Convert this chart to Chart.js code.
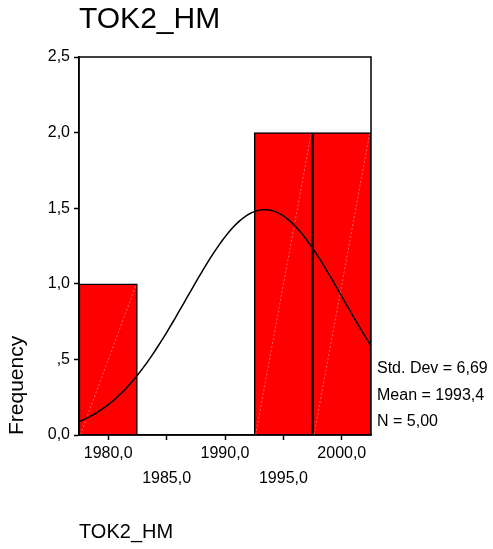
<!DOCTYPE html>
<html>
<head>
<meta charset="utf-8">
<script src="https://cdn.jsdelivr.net/npm/chart.js@4/dist/chart.umd.min.js"></script>
<style>
  html, body { margin: 0; padding: 0; background: #ffffff; }
  #wrap { width: 493px; height: 549px; }
</style>
</head>
<body>
<div id="wrap"><canvas id="chart" width="493" height="549"></canvas></div>
<script>
// Histogram of TOK2_HM with a fitted normal curve
const variableName = "TOK2_HM";
const binCenters = [1980, 1995, 2000];
const binCounts = [1, 2, 2];
const binWidth = 5;
const xMin = 1977.5;
const xMax = 2002.5;

const xTickValues = [1980, 1985, 1990, 1995, 2000];
const xTickLabels = ["1980,0", "1985,0", "1990,0", "1995,0", "2000,0"];
const yTickValues = [0, 0.5, 1, 1.5, 2, 2.5];
const yTickLabels = ["0,0", ",5", "1,0", "1,5", "2,0", "2,5"];

const statMean = 1993.4;
const statStdDev = 6.69;
const statN = 5;
const statLabels = ["Std. Dev = 6,69", "Mean = 1993,4", "N = 5,00"];

const FONT = "'Liberation Sans', Arial, Helvetica, sans-serif";

// Normal density scaled to counts per bin, from the summary statistics
const curveStep = 0.25;
const curvePoints = [];
for (let x = xMin; x <= xMax + 1e-9; x += curveStep) {
  const z = (x - statMean) / statStdDev;
  const y = statN * binWidth / (statStdDev * Math.sqrt(2 * Math.PI)) * Math.exp(-0.5 * z * z);
  curvePoints.push({ x: x, y: y });
}

const barData = binCenters.map((c, i) => ({ x: c, y: binCounts[i] }));

// Faint diagonal hatch line inside each bar
const barHatch = {
  id: 'barHatch',
  afterDatasetDraw(chart, args) {
    if (args.index !== 1) return;
    const ctx = chart.ctx;
    ctx.save();
    ctx.strokeStyle = 'rgba(255,170,170,0.8)';
    ctx.lineWidth = 0.7;
    ctx.setLineDash([2, 2]);
    args.meta.data.forEach(bar => {
      const p = bar.getProps(['x', 'y', 'base', 'width'], true);
      ctx.beginPath();
      ctx.moveTo(p.x - p.width / 2 + 1.5, p.base);
      ctx.lineTo(p.x + p.width / 2 - 1.5, p.y + 1.5);
      ctx.stroke();
    });
    ctx.restore();
  }
};

// Closed frame around the plot area and the summary text beside it
const frameAndStats = {
  id: 'frameAndStats',
  afterDatasetsDraw(chart) {
    const ctx = chart.ctx;
    const a = chart.chartArea;
    ctx.save();
    ctx.strokeStyle = '#000000';
    ctx.lineWidth = 1.5;
    ctx.strokeRect(a.left, a.top, a.right - a.left, a.bottom - a.top);
    ctx.restore();
  },
  afterDraw(chart) {
    const ctx = chart.ctx;
    const a = chart.chartArea;
    ctx.save();
    ctx.fillStyle = '#000000';
    ctx.font = '16px ' + FONT;
    ctx.textAlign = 'left';
    ctx.textBaseline = 'middle';
    const lineGap = 26.5;
    statLabels.forEach((t, i) => {
      ctx.fillText(t, a.right + 6, a.bottom - 13 - (statLabels.length - 1 - i) * lineGap);
    });
    ctx.restore();
  }
};

new Chart(document.getElementById('chart'), {
  type: 'bar',
  data: {
    datasets: [
      {
        type: 'line',
        data: curvePoints,
        borderColor: '#000000',
        borderWidth: 1.5,
        pointRadius: 0,
        tension: 0,
        fill: false,
        order: 1
      },
      {
        type: 'bar',
        data: barData,
        backgroundColor: '#ff0000',
        borderColor: '#000000',
        borderWidth: 1.5,
        barPercentage: 1,
        categoryPercentage: 1,
        order: 2
      }
    ]
  },
  options: {
    responsive: false,
    animation: false,
    layout: { padding: { left: 0, right: 122, top: 0, bottom: 0 } },
    plugins: {
      legend: { display: false },
      tooltip: { enabled: false },
      title: {
        display: true,
        text: variableName,
        align: 'start',
        fullSize: false,
        color: '#000000',
        font: { family: FONT, size: 30, weight: 'normal', lineHeight: 1.2 },
        padding: { top: 2, bottom: 19 }
      }
    },
    scales: {
      x: {
        type: 'linear',
        min: xMin,
        max: xMax,
        offset: false,
        afterBuildTicks(scale) {
          scale.ticks = xTickValues.map(v => ({ value: v }));
        },
        afterFit(scale) { scale.height = 114; },
        grid: {
          display: true,
          offset: false,
          drawOnChartArea: false,
          drawTicks: true,
          tickLength: 5,
          tickWidth: 1.5,
          tickColor: '#000000'
        },
        border: { display: true, color: '#000000', width: 1.5 },
        ticks: {
          autoSkip: false,
          maxRotation: 0,
          minRotation: 0,
          padding: 1.5,
          color: '#000000',
          font: { family: FONT, size: 16, lineHeight: '25px' },
          callback(value, index) {
            const label = xTickLabels[xTickValues.indexOf(value)];
            return index % 2 === 1 ? ['', label] : label;
          }
        },
        title: {
          display: true,
          text: variableName,
          align: 'start',
          color: '#000000',
          font: { family: FONT, size: 20, lineHeight: 1.2 },
          padding: { top: 0, bottom: 5 }
        }
      },
      y: {
        min: 0,
        max: 2.5,
        afterBuildTicks(scale) {
          scale.ticks = yTickValues.map(v => ({ value: v }));
        },
        afterFit(scale) { scale.width = 79; },
        grid: {
          display: true,
          drawOnChartArea: false,
          drawTicks: true,
          tickLength: 5,
          tickWidth: 1.5,
          tickColor: '#000000'
        },
        border: { display: true, color: '#000000', width: 1.5 },
        ticks: {
          padding: 4,
          color: '#000000',
          font: { family: FONT, size: 16 },
          callback(value) {
            return yTickLabels[yTickValues.indexOf(value)];
          }
        },
        title: {
          display: true,
          text: 'Frequency',
          align: 'start',
          color: '#000000',
          font: { family: FONT, size: 21, lineHeight: 1.2 },
          padding: { top: 5, bottom: 0 }
        }
      }
    }
  },
  plugins: [barHatch, frameAndStats]
});
</script>
</body>
</html>
